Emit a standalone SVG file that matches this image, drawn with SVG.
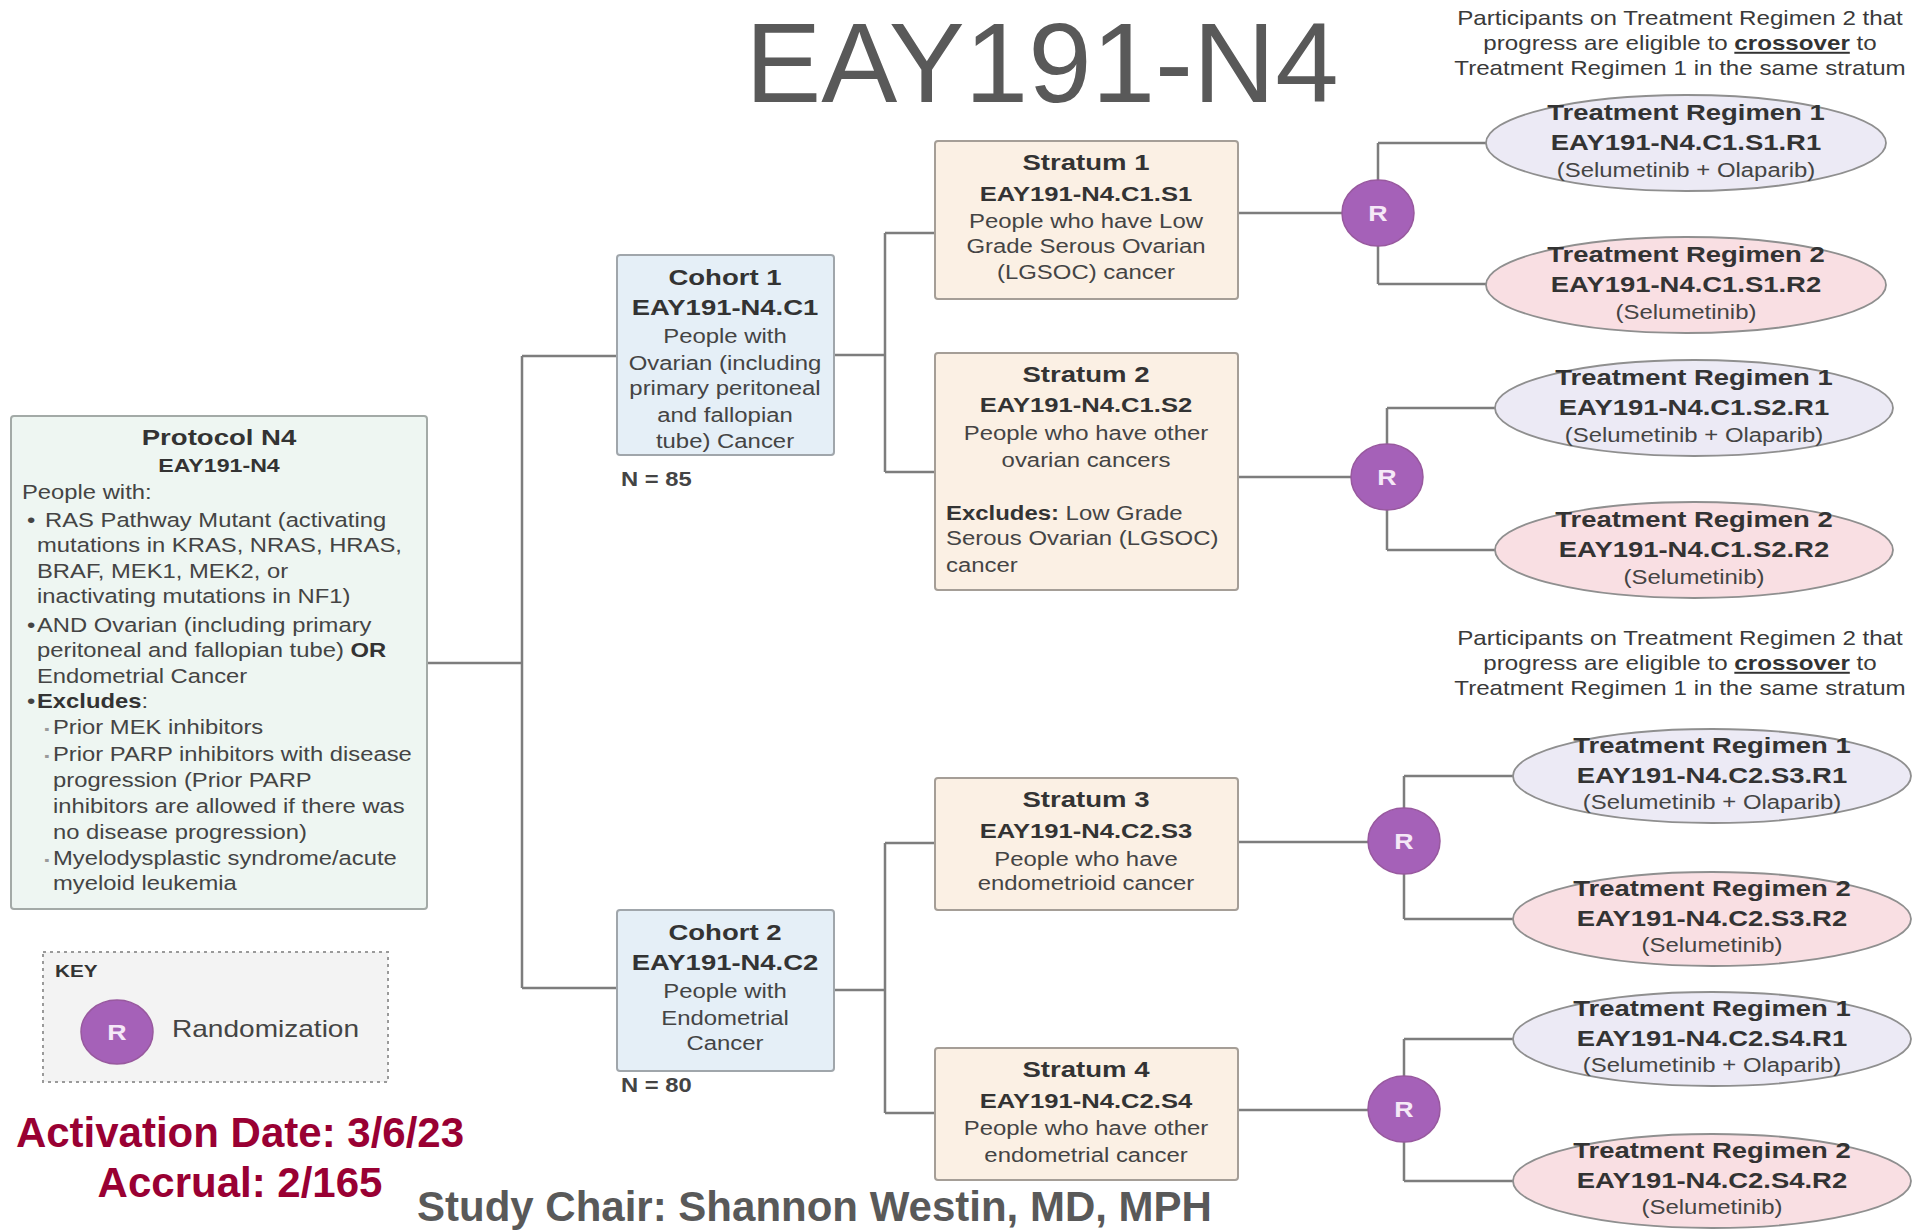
<svg xmlns="http://www.w3.org/2000/svg" width="1918" height="1232" viewBox="0 0 1918 1232">
<style>
text { font-family: "Liberation Sans", Arial, Helvetica, sans-serif; fill: #3d3d3d; }
.c { text-anchor: middle; }
.b { font-weight: bold; }
.hd { font-weight: bold; font-size: 22.6px; fill: #333; }
.cd { font-weight: bold; font-size: 22.5px; fill: #333; }
.sc { font-weight: bold; font-size: 21px; fill: #333; }
.bd { font-size: 19.5px; fill: #444; }
.dr { font-size: 19.6px; fill: #444; }
.nt { font-size: 19.8px; fill: #3a3a3a; }
.sb { font-size: 12px; fill: #9a9a9a; }
.conn { fill: none; stroke: #7d7d7d; stroke-width: 2.5; }
.pbox { fill: #eef6f2; stroke: #a3aaa7; stroke-width: 2; }
.cbox { fill: #e5eff7; stroke: #a0a6ab; stroke-width: 2; }
.sbox { fill: #fbf0e4; stroke: #a59e97; stroke-width: 2; }
.r1 { fill: #eceaf5; stroke: #8f8f8f; stroke-width: 1.8; }
.r2 { fill: #f9dfe3; stroke: #8f8f8f; stroke-width: 1.8; }
.rc { fill: #a561b8; stroke: #98599f; stroke-width: 1.5; }
.rl { font-weight: bold; font-size: 22px; fill: #f5e8f7; text-anchor: middle; }
.red { font-weight: bold; font-size: 42px; fill: #990033; text-anchor: middle; }
</style>

<text id="title" x="1042" y="102" class="c" style="font-size:114px;fill:#595959">EAY191-N4</text>

<g id="connectors">
  <path class="conn" d="M427,663 H522 M522,356 V988 M522,356 H618 M522,988 H618"/>
  <path class="conn" d="M834,355 H885 M885,233 V472 M885,233 H935 M885,472 H935"/>
  <path class="conn" d="M834,990 H885 M885,843 V1113 M885,843 H935 M885,1113 H935"/>
  <path class="conn" d="M1238,213 H1378 M1378,143 V284 M1378,143 H1487 M1378,284 H1487"/>
  <path class="conn" d="M1238,477 H1387 M1387,408 V550 M1387,408 H1496 M1387,550 H1496"/>
  <path class="conn" d="M1238,842 H1404 M1404,776 V919 M1404,776 H1514 M1404,919 H1514"/>
  <path class="conn" d="M1238,1110 H1404 M1404,1039 V1181 M1404,1039 H1514 M1404,1181 H1514"/>
</g>

<g id="protocol">
  <rect class="pbox" x="11" y="416" width="416" height="493" rx="3"/>
  <text class="hd c" transform="matrix(1.22 0 0 1 219 445)">Protocol N4</text>
  <text class="b c" style="font-size:19px;fill:#333" transform="matrix(1.22 0 0 1 219 472)">EAY191-N4</text>
  <text class="bd" transform="matrix(1.22 0 0 1 22 499)">People with:</text>
  <text class="bd" transform="matrix(1.22 0 0 1 27 527)">•</text>
  <text class="bd" transform="matrix(1.22 0 0 1 45 527)">RAS Pathway Mutant (activating</text>
  <text class="bd" transform="matrix(1.22 0 0 1 37 552)">mutations in KRAS, NRAS, HRAS,</text>
  <text class="bd" transform="matrix(1.22 0 0 1 37 578)">BRAF, MEK1, MEK2, or</text>
  <text class="bd" transform="matrix(1.22 0 0 1 37 603)">inactivating mutations in NF1)</text>
  <text class="bd" transform="matrix(1.22 0 0 1 27 632)">•</text>
  <text class="bd" transform="matrix(1.22 0 0 1 37 632)">AND Ovarian (including primary</text>
  <text class="bd" transform="matrix(1.22 0 0 1 37 657)">peritoneal and fallopian tube) <tspan class="b" style="fill:#333">OR</tspan></text>
  <text class="bd" transform="matrix(1.22 0 0 1 37 683)">Endometrial Cancer</text>
  <text class="bd" transform="matrix(1.22 0 0 1 27 708)">•</text>
  <text class="bd" transform="matrix(1.22 0 0 1 37 708)"><tspan class="b" style="fill:#333">Excludes</tspan>:</text>
  <text class="sb" transform="matrix(1.22 0 0 1 44 733)">▪</text>
  <text class="bd" transform="matrix(1.22 0 0 1 53 734)">Prior MEK inhibitors</text>
  <text class="sb" transform="matrix(1.22 0 0 1 44 760)">▪</text>
  <text class="bd" transform="matrix(1.22 0 0 1 53 761)">Prior PARP inhibitors with disease</text>
  <text class="bd" transform="matrix(1.22 0 0 1 53 787)">progression (Prior PARP</text>
  <text class="bd" transform="matrix(1.22 0 0 1 53 813)">inhibitors are allowed if there was</text>
  <text class="bd" transform="matrix(1.22 0 0 1 53 839)">no disease progression)</text>
  <text class="sb" transform="matrix(1.22 0 0 1 44 864)">▪</text>
  <text class="bd" transform="matrix(1.22 0 0 1 53 865)">Myelodysplastic syndrome/acute</text>
  <text class="bd" transform="matrix(1.22 0 0 1 53 890)">myeloid leukemia</text>
</g>

<g id="key">
  <rect x="43" y="952" width="345" height="130" fill="#f3f3f3" stroke="#9a9a9a" stroke-width="2" stroke-dasharray="3 4"/>
  <text class="b" style="font-size:17px;fill:#333" transform="matrix(1.22 0 0 1 55 977)">KEY</text>
  <ellipse class="rc" cx="117" cy="1032" rx="36" ry="32"/>
  <text class="rl" transform="matrix(1.22 0 0 1 117 1040)">R</text>
  <text style="font-size:23px;fill:#444" transform="matrix(1.22 0 0 1 172 1037)">Randomization</text>
</g>

<g id="accrual">
  <text class="red" x="240" y="1147">Activation Date: 3/6/23</text>
  <text class="red" x="240" y="1197">Accrual: 2/165</text>
</g>

<text id="study-chair" x="417" y="1221" class="b" style="font-size:42px;fill:#595959">Study Chair: Shannon Westin, MD, MPH</text>

<g id="cohort1">
  <rect class="cbox" x="617" y="255" width="217" height="200" rx="3"/>
  <text class="hd c" transform="matrix(1.22 0 0 1 725 285)">Cohort 1</text>
  <text class="cd c" transform="matrix(1.22 0 0 1 725 315)">EAY191-N4.C1</text>
  <text class="dr c" transform="matrix(1.22 0 0 1 725 343)">People with</text>
  <text class="dr c" transform="matrix(1.22 0 0 1 725 370)">Ovarian (including</text>
  <text class="dr c" transform="matrix(1.22 0 0 1 725 395)">primary peritoneal</text>
  <text class="dr c" transform="matrix(1.22 0 0 1 725 422)">and fallopian</text>
  <text class="dr c" transform="matrix(1.22 0 0 1 725 448)">tube) Cancer</text>
  <text class="b" style="font-size:19.5px;fill:#444" transform="matrix(1.22 0 0 1 621 486)">N = 85</text>
</g>

<g id="cohort2">
  <rect class="cbox" x="617" y="910" width="217" height="161" rx="3"/>
  <text class="hd c" transform="matrix(1.22 0 0 1 725 940)">Cohort 2</text>
  <text class="cd c" transform="matrix(1.22 0 0 1 725 970)">EAY191-N4.C2</text>
  <text class="dr c" transform="matrix(1.22 0 0 1 725 998)">People with</text>
  <text class="dr c" transform="matrix(1.22 0 0 1 725 1025)">Endometrial</text>
  <text class="dr c" transform="matrix(1.22 0 0 1 725 1050)">Cancer</text>
  <text class="b" style="font-size:19.5px;fill:#444" transform="matrix(1.22 0 0 1 621 1092)">N = 80</text>
</g>

<g id="stratum1">
  <rect class="sbox" x="935" y="141" width="303" height="158" rx="3"/>
  <text class="hd c" transform="matrix(1.22 0 0 1 1086 170)">Stratum 1</text>
  <text class="sc c" transform="matrix(1.22 0 0 1 1086 201)">EAY191-N4.C1.S1</text>
  <text class="dr c" transform="matrix(1.22 0 0 1 1086 228)">People who have Low</text>
  <text class="dr c" transform="matrix(1.22 0 0 1 1086 253)">Grade Serous Ovarian</text>
  <text class="dr c" transform="matrix(1.22 0 0 1 1086 279)">(LGSOC) cancer</text>
</g>

<g id="stratum2">
  <rect class="sbox" x="935" y="353" width="303" height="237" rx="3"/>
  <text class="hd c" transform="matrix(1.22 0 0 1 1086 382)">Stratum 2</text>
  <text class="sc c" transform="matrix(1.22 0 0 1 1086 412)">EAY191-N4.C1.S2</text>
  <text class="dr c" transform="matrix(1.22 0 0 1 1086 440)">People who have other</text>
  <text class="dr c" transform="matrix(1.22 0 0 1 1086 467)">ovarian cancers</text>
  <text class="dr" transform="matrix(1.22 0 0 1 946 520)"><tspan class="b" style="fill:#333">Excludes:</tspan> Low Grade</text>
  <text class="dr" transform="matrix(1.22 0 0 1 946 545)">Serous Ovarian (LGSOC)</text>
  <text class="dr" transform="matrix(1.22 0 0 1 946 572)">cancer</text>
</g>

<g id="stratum3">
  <rect class="sbox" x="935" y="778" width="303" height="132" rx="3"/>
  <text class="hd c" transform="matrix(1.22 0 0 1 1086 807)">Stratum 3</text>
  <text class="sc c" transform="matrix(1.22 0 0 1 1086 838)">EAY191-N4.C2.S3</text>
  <text class="dr c" transform="matrix(1.22 0 0 1 1086 866)">People who have</text>
  <text class="dr c" transform="matrix(1.22 0 0 1 1086 890)">endometrioid cancer</text>
</g>

<g id="stratum4">
  <rect class="sbox" x="935" y="1048" width="303" height="132" rx="3"/>
  <text class="hd c" transform="matrix(1.22 0 0 1 1086 1077)">Stratum 4</text>
  <text class="sc c" transform="matrix(1.22 0 0 1 1086 1108)">EAY191-N4.C2.S4</text>
  <text class="dr c" transform="matrix(1.22 0 0 1 1086 1135)">People who have other</text>
  <text class="dr c" transform="matrix(1.22 0 0 1 1086 1162)">endometrial cancer</text>
</g>

<g id="note1">
  <text class="nt c" transform="matrix(1.22 0 0 1 1680 25)">Participants on Treatment Regimen 2 that</text>
  <text class="nt c" transform="matrix(1.22 0 0 1 1680 50)">progress are eligible to <tspan class="b" text-decoration="underline" style="fill:#333">crossover</tspan> to</text>
  <text class="nt c" transform="matrix(1.22 0 0 1 1680 75)">Treatment Regimen 1 in the same stratum</text>
</g>

<g id="note2">
  <text class="nt c" transform="matrix(1.22 0 0 1 1680 645)">Participants on Treatment Regimen 2 that</text>
  <text class="nt c" transform="matrix(1.22 0 0 1 1680 670)">progress are eligible to <tspan class="b" text-decoration="underline" style="fill:#333">crossover</tspan> to</text>
  <text class="nt c" transform="matrix(1.22 0 0 1 1680 695)">Treatment Regimen 1 in the same stratum</text>
</g>

<g id="rand1"><ellipse class="rc" cx="1378" cy="213" rx="36" ry="33"/><text class="rl" transform="matrix(1.22 0 0 1 1378 221)">R</text></g>
<g id="rand2"><ellipse class="rc" cx="1387" cy="477" rx="36" ry="33"/><text class="rl" transform="matrix(1.22 0 0 1 1387 485)">R</text></g>
<g id="rand3"><ellipse class="rc" cx="1404" cy="841" rx="36" ry="33"/><text class="rl" transform="matrix(1.22 0 0 1 1404 849)">R</text></g>
<g id="rand4"><ellipse class="rc" cx="1404" cy="1109" rx="36" ry="33"/><text class="rl" transform="matrix(1.22 0 0 1 1404 1117)">R</text></g>

<g id="c1s1r1">
  <ellipse class="r1" cx="1686" cy="143" rx="200" ry="48"/>
  <text class="cd c" transform="matrix(1.22 0 0 1 1686 120)">Treatment Regimen 1</text>
  <text class="cd c" transform="matrix(1.22 0 0 1 1686 150)">EAY191-N4.C1.S1.R1</text>
  <text class="dr c" transform="matrix(1.22 0 0 1 1686 177)">(Selumetinib + Olaparib)</text>
</g>
<g id="c1s1r2">
  <ellipse class="r2" cx="1686" cy="285" rx="200" ry="48"/>
  <text class="cd c" transform="matrix(1.22 0 0 1 1686 262)">Treatment Regimen 2</text>
  <text class="cd c" transform="matrix(1.22 0 0 1 1686 292)">EAY191-N4.C1.S1.R2</text>
  <text class="dr c" transform="matrix(1.22 0 0 1 1686 319)">(Selumetinib)</text>
</g>
<g id="c1s2r1">
  <ellipse class="r1" cx="1694" cy="408" rx="199" ry="48"/>
  <text class="cd c" transform="matrix(1.22 0 0 1 1694 385)">Treatment Regimen 1</text>
  <text class="cd c" transform="matrix(1.22 0 0 1 1694 415)">EAY191-N4.C1.S2.R1</text>
  <text class="dr c" transform="matrix(1.22 0 0 1 1694 442)">(Selumetinib + Olaparib)</text>
</g>
<g id="c1s2r2">
  <ellipse class="r2" cx="1694" cy="550" rx="199" ry="48"/>
  <text class="cd c" transform="matrix(1.22 0 0 1 1694 527)">Treatment Regimen 2</text>
  <text class="cd c" transform="matrix(1.22 0 0 1 1694 557)">EAY191-N4.C1.S2.R2</text>
  <text class="dr c" transform="matrix(1.22 0 0 1 1694 584)">(Selumetinib)</text>
</g>
<g id="c2s3r1">
  <ellipse class="r1" cx="1712" cy="776" rx="199" ry="47"/>
  <text class="cd c" transform="matrix(1.22 0 0 1 1712 753)">Treatment Regimen 1</text>
  <text class="cd c" transform="matrix(1.22 0 0 1 1712 783)">EAY191-N4.C2.S3.R1</text>
  <text class="dr c" transform="matrix(1.22 0 0 1 1712 809)">(Selumetinib + Olaparib)</text>
</g>
<g id="c2s3r2">
  <ellipse class="r2" cx="1712" cy="919" rx="199" ry="47"/>
  <text class="cd c" transform="matrix(1.22 0 0 1 1712 896)">Treatment Regimen 2</text>
  <text class="cd c" transform="matrix(1.22 0 0 1 1712 926)">EAY191-N4.C2.S3.R2</text>
  <text class="dr c" transform="matrix(1.22 0 0 1 1712 952)">(Selumetinib)</text>
</g>
<g id="c2s4r1">
  <ellipse class="r1" cx="1712" cy="1039" rx="199" ry="47"/>
  <text class="cd c" transform="matrix(1.22 0 0 1 1712 1016)">Treatment Regimen 1</text>
  <text class="cd c" transform="matrix(1.22 0 0 1 1712 1046)">EAY191-N4.C2.S4.R1</text>
  <text class="dr c" transform="matrix(1.22 0 0 1 1712 1072)">(Selumetinib + Olaparib)</text>
</g>
<g id="c2s4r2">
  <ellipse class="r2" cx="1712" cy="1181" rx="199" ry="47"/>
  <text class="cd c" transform="matrix(1.22 0 0 1 1712 1158)">Treatment Regimen 2</text>
  <text class="cd c" transform="matrix(1.22 0 0 1 1712 1188)">EAY191-N4.C2.S4.R2</text>
  <text class="dr c" transform="matrix(1.22 0 0 1 1712 1214)">(Selumetinib)</text>
</g>
</svg>
